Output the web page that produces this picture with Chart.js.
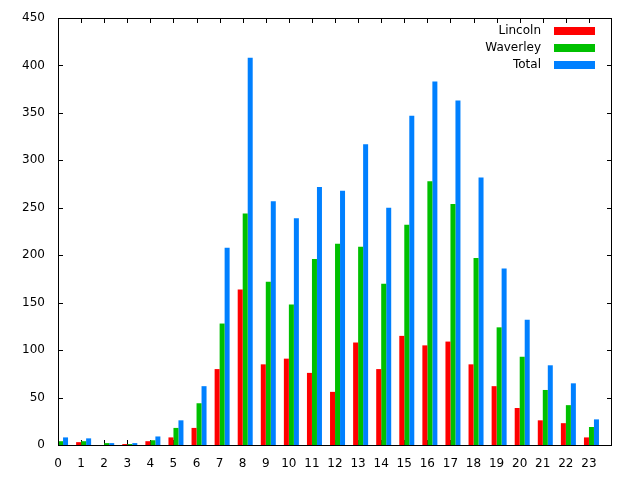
<!DOCTYPE html>
<html lang="en">
<head>
    <meta charset="UTF-8">
    <title>Hourly counts</title>
    <script src="https://cdn.jsdelivr.net/npm/chart.js@4"></script>
    <style>
        html, body { margin: 0; padding: 0; background: #fff; }
    </style>
</head>
<body>
    <canvas id="hourChart" width="640" height="480"></canvas>
    <script>
        const hours = [0, 1, 2, 3, 4, 5, 6, 7, 8, 9, 10, 11, 12, 13, 14, 15, 16, 17, 18, 19, 20, 21, 22, 23];
        const lincoln = [4, 3, 0, 1, 4, 8, 18, 80, 164, 85, 91, 76, 56, 108, 80, 115, 105, 109, 85, 62, 39, 26, 23, 8];
        const waverley = [4, 4, 2, 1, 5, 18, 44, 128, 244, 172, 148, 196, 212, 209, 170, 232, 278, 254, 197, 124, 93, 58, 42, 19];
        const total = [8, 7, 2, 2, 9, 26, 62, 208, 408, 257, 239, 272, 268, 317, 250, 347, 383, 363, 282, 186, 132, 84, 65, 27];
        const yTicks = [0, 50, 100, 150, 200, 250, 300, 350, 400, 450];

        const font = { family: 'DejaVu Sans', size: 12 };

        function toPoints(values) {
            return hours.map((h, i) => ({ x: h, y: values[i] }));
        }

        // gnuplot style: border box, inward mirrored ticks, key at top right
        const gnuplotFrame = {
            id: 'gnuplotFrame',
            beforeDatasetsDraw(chart) {
                const ctx = chart.ctx;
                const a = chart.chartArea;
                const xs = chart.scales.x;
                const ys = chart.scales.y;
                ctx.save();
                ctx.strokeStyle = '#000';
                ctx.lineWidth = 1;
                ctx.beginPath();
                hours.forEach(h => {
                    const px = Math.round(xs.getPixelForValue(h)) + 0.5;
                    ctx.moveTo(px, a.bottom);
                    ctx.lineTo(px, a.bottom - 5);
                    ctx.moveTo(px, a.top);
                    ctx.lineTo(px, a.top + 5);
                });
                yTicks.forEach(v => {
                    const py = Math.round(ys.getPixelForValue(v)) + 0.5;
                    ctx.moveTo(a.left, py);
                    ctx.lineTo(a.left + 5, py);
                    ctx.moveTo(a.right, py);
                    ctx.lineTo(a.right - 5, py);
                });
                ctx.stroke();
                ctx.restore();
            },
            afterDatasetsDraw(chart) {
                const ctx = chart.ctx;
                const a = chart.chartArea;
                ctx.save();
                ctx.strokeStyle = '#000';
                ctx.lineWidth = 1;
                ctx.strokeRect(a.left + 0.5, a.top + 0.5, a.right - a.left - 1, a.bottom - a.top);

                ctx.font = '12px "DejaVu Sans"';
                ctx.textAlign = 'right';
                ctx.textBaseline = 'middle';
                chart.data.datasets.forEach((ds, i) => {
                    const y = a.top + 13 + 17 * i;
                    ctx.fillStyle = '#000';
                    ctx.fillText(ds.label, a.right - 71, y);
                    ctx.fillStyle = ds.backgroundColor;
                    ctx.fillRect(a.right - 58, y - 4, 41, 8);
                });
                ctx.restore();
            }
        };

        new Chart(document.getElementById('hourChart').getContext('2d'), {
            type: 'bar',
            data: {
                datasets: [
                    { label: 'Lincoln', data: toPoints(lincoln), backgroundColor: '#ff0000' },
                    { label: 'Waverley', data: toPoints(waverley), backgroundColor: '#00c000' },
                    { label: 'Total', data: toPoints(total), backgroundColor: '#0080ff' }
                ]
            },
            options: {
                responsive: false,
                animation: false,
                devicePixelRatio: 1,
                layout: { padding: { top: 18, right: 28, left: 0, bottom: 0 } },
                datasets: {
                    bar: { xAxisID: 'xb', categoryPercentage: 0.65, barPercentage: 1, borderWidth: 0 }
                },
                scales: {
                    xb: {
                        type: 'linear',
                        min: -0.11,
                        max: 23.89,
                        offset: false,
                        display: false
                    },
                    x: {
                        type: 'linear',
                        position: 'bottom',
                        min: 0,
                        max: 24,
                        offset: false,
                        afterBuildTicks: s => { s.ticks = hours.map(h => ({ value: h })); },
                        afterFit: s => { s.height = 35; },
                        grid: { display: false, drawTicks: false, offset: false },
                        border: { display: false },
                        ticks: { font: font, color: '#000', padding: 12, maxRotation: 0, autoSkip: false }
                    },
                    y: {
                        min: 0,
                        max: 450,
                        afterBuildTicks: s => { s.ticks = yTicks.map(v => ({ value: v })); },
                        afterFit: s => {
                            s.width = 58;
                            s.paddingTop = 0;
                            s.paddingBottom = 0;
                        },
                        grid: { display: false, drawTicks: false },
                        border: { display: false },
                        ticks: { font: font, color: '#000', padding: 13 }
                    }
                },
                plugins: {
                    legend: { display: false },
                    tooltip: { enabled: false }
                }
            },
            plugins: [gnuplotFrame]
        });
    </script>
</body>
</html>
